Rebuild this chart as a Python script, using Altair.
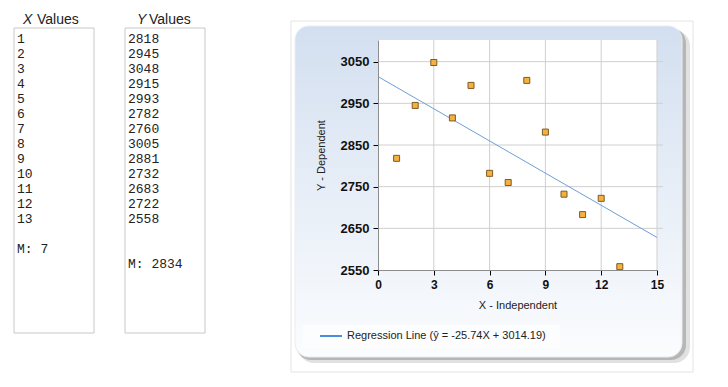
import altair as alt
import numpy as np
import pandas as pd

# ---- data ----
x_values = [1, 2, 3, 4, 5, 6, 7, 8, 9, 10, 11, 12, 13]
y_values = [2818, 2945, 3048, 2915, 2993, 2782, 2760, 3005, 2881, 2732, 2683, 2722, 2558]
x_ticks = [0, 3, 6, 9, 12, 15]
y_ticks = [2550, 2650, 2750, 2850, 2950, 3050]
x_domain = [0, 15]
y_domain = [2550, 3102]

slope, intercept = np.polyfit(x_values, y_values, 1)
legend_label = f"Regression Line (\u0177 = {slope:.2f}X + {intercept:.2f})"
x_mean = f"M: {np.mean(x_values):.0f}"
y_mean = f"M: {np.mean(y_values):.0f}"

pts = pd.DataFrame({"x": x_values, "y": y_values})
one = pd.DataFrame({"k": [0]})

W, H = 279, 230

def box(x, x2, y, y2, **kw):
    return alt.Chart(one).mark_rect(**kw).encode(
        x=alt.value(x), x2=alt.value(x2), y=alt.value(y), y2=alt.value(y2))

def label(text, x, y, **kw):
    return alt.Chart(one).mark_text(text=text, **kw).encode(
        x=alt.value(x), y=alt.value(y))

# decorations
frame = box(-87, 315, -19, 332, fill="white", stroke="#e4e4e4", strokeWidth=1)
shadow1 = box(-80, 312, -10, 323, fill="#888888", opacity=0.25, cornerRadius=16)
shadow2 = box(-82, 308, -12, 320, fill="#666666", opacity=0.35, cornerRadius=15)
panel = box(-83, 304, -14, 317, cornerRadius=14, stroke="#e8edf4", strokeWidth=1,
            fill=alt.Gradient(gradient="linear",
                              stops=[alt.GradientStop(color="#d3dff0", offset=0),
                                     alt.GradientStop(color="#e7eef7", offset=0.5),
                                     alt.GradientStop(color="#fbfcfe", offset=1)],
                              x1=0, x2=0, y1=0, y2=1))
legend_bg = box(-75, 182, 285, 308, fill="white", opacity=0.6)
plot_bg = box(0, W, 0, H, fill="white")

xs = alt.Scale(domain=x_domain)
ys = alt.Scale(domain=y_domain)

axis_common = dict(grid=False, labelFont="Liberation Sans", labelColor="#111111",
                   labelFontWeight="bold", format="d", labelFlush=False, labelOverlap=False,
                   tickColor="#000000", tickSize=5, domainColor="#8c8c8c", labelPadding=4,
                   titleFont="Liberation Sans", titleFontSize=11, titleFontWeight="normal",
                   titleColor="#222222", zindex=1)
x_axis = alt.Axis(values=x_ticks, title="X - Independent", titlePadding=9,
                  labelFontSize=12, **axis_common)
y_axis = alt.Axis(values=y_ticks, title="Y - Dependent", titlePadding=14,
                  labelFontSize=13, **axis_common)

vgrid = alt.Chart(pd.DataFrame({"x": x_ticks[1:]})).mark_rule(color="#cfcfcf", strokeWidth=1).encode(
    x=alt.X("x:Q", scale=xs, axis=x_axis),
    y=alt.value(0), y2=alt.value(H))
hgrid = alt.Chart(pd.DataFrame({"y": y_ticks[1:]})).mark_rule(color="#cfcfcf", strokeWidth=1).encode(
    y=alt.Y("y:Q", scale=ys, axis=y_axis),
    x=alt.value(0), x2=alt.value(W + 6))

reg = alt.Chart(pts).transform_regression("x", "y", extent=x_domain).mark_line(
    color="#6d9fd9", strokeWidth=1).encode(
    x=alt.X("x:Q", scale=xs, axis=x_axis),
    y=alt.Y("y:Q", scale=ys, axis=y_axis))

points = alt.Chart(pts).mark_square(size=36, fill="#f4b142", stroke="#7d5b22",
                                    strokeWidth=1, opacity=1).encode(
    x=alt.X("x:Q", scale=xs, axis=x_axis),
    y=alt.Y("y:Q", scale=ys, axis=y_axis))

# value boxes
xbox = box(-364, -284, -12, 293, fill="white", stroke="#c8c8c8", strokeWidth=1)
ybox = box(-253, -173, -12, 293, fill="white", stroke="#c8c8c8", strokeWidth=1)

mono = dict(font="Liberation Mono", fontSize=13, color="#222222", align="left",
            baseline="top", lineHeight=15)
xlist = label([str(v) for v in x_values], -361, -7, **mono)
ylist = label([str(v) for v in y_values], -250, -7, **mono)
xm = label(x_mean, -361, 203, **mono)
ym = label(y_mean, -250, 218, **mono)

hdr = dict(font="Liberation Sans", fontSize=14, color="#222222", align="left", baseline="middle")
xh1 = label("X", -355, -20, fontStyle="italic", **hdr)
xh2 = label("Values", -341, -20, **hdr)
yh1 = label("Y", -241, -20, fontStyle="italic", **hdr)
yh2 = label("Values", -229, -20, **hdr)

leg_line = alt.Chart(one).mark_rule(color="#4a8de0", strokeWidth=2).encode(
    x=alt.value(-58), x2=alt.value(-36), y=alt.value(296))
leg_text = label(legend_label, -31, 296, font="Liberation Sans", fontSize=11,
                 color="#222222", align="left", baseline="middle")

chart = alt.layer(
    frame, shadow1, shadow2, panel, legend_bg, plot_bg, vgrid, hgrid, reg, points,
    xbox, ybox, xlist, ylist, xm, ym, xh1, xh2, yh1, yh2, leg_line, leg_text
).properties(
    width=W, height=H,
    autosize=alt.AutoSizeParams(type="none"),
    padding={"left": 378, "top": 40, "right": 71, "bottom": 117},
    background="white"
).configure_view(stroke=None)

chart.save("out.html", embed_options={"renderer": "svg", "actions": False})
